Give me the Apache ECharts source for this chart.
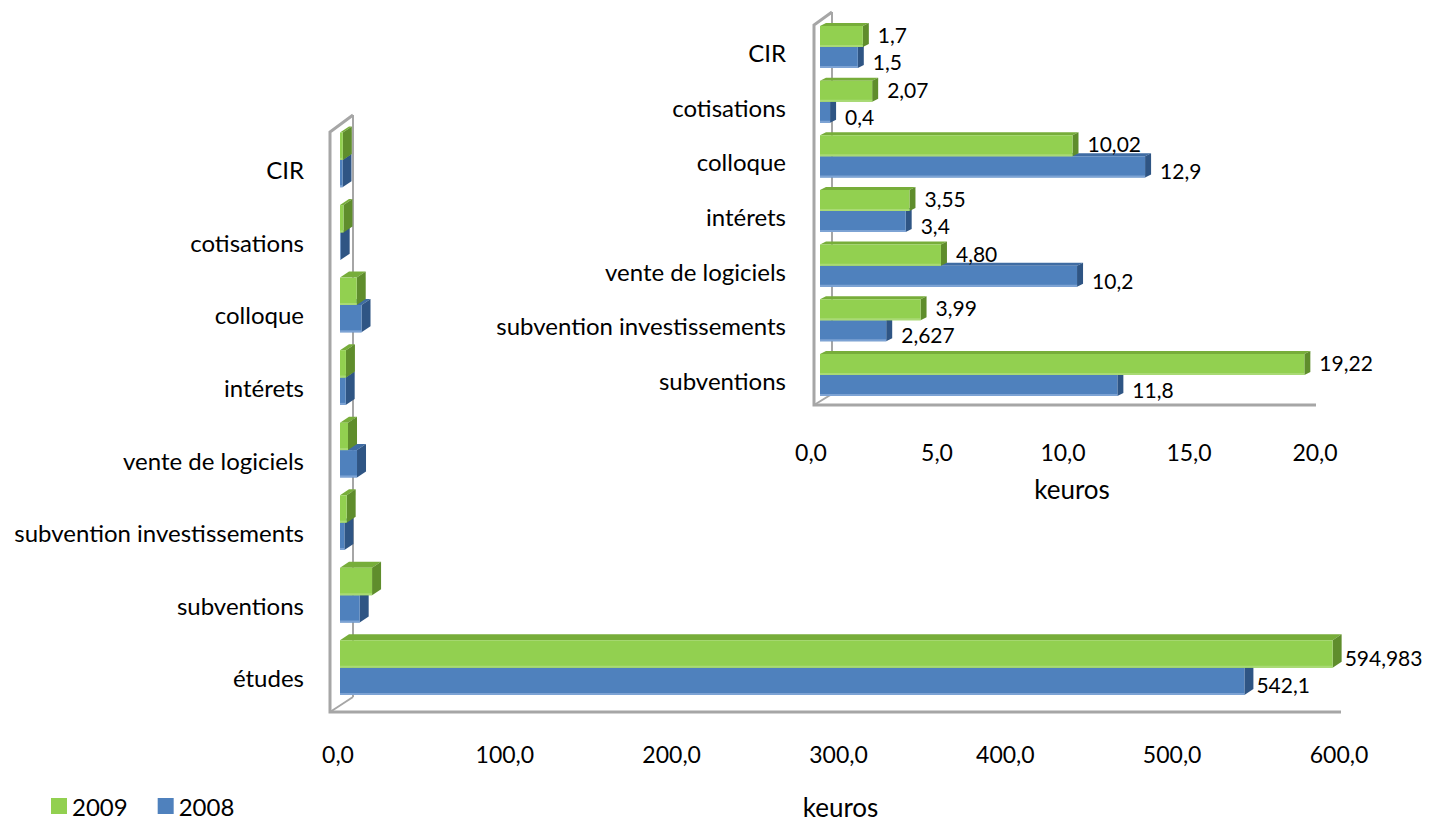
<!DOCTYPE html>
<html><head><meta charset="utf-8">
<script src="https://cdn.jsdelivr.net/npm/echarts@6/dist/echarts.min.js"></script>
<style>html,body{margin:0;padding:0;background:#fff}#c{width:1446px;height:825px}</style>
</head><body><div id="c"></div>
<script>
// ---- data (bottom to top, as drawn on the category axis) ----
const categories = ['études', 'subventions', 'subvention investissements', 'vente de logiciels', 'intérets', 'colloque', 'cotisations', 'CIR'];
const labels2009 = ['594,983', '19,22', '3,99', '4,80', '3,55', '10,02', '2,07', '1,7'];
const labels2008 = ['542,1', '11,8', '2,627', '10,2', '3,4', '12,9', '0,4', '1,5'];
const seriesNames = ['2009', '2008'];
const mainAxis = { min: 0, max: 600, interval: 100 };
const insetAxis = { min: 0, max: 20, interval: 5 };
const axisTitle = 'keuros';

const toNum = s => parseFloat(s.replace(',', '.'));
const values2009 = labels2009.map(toNum);
const values2008 = labels2008.map(toNum);
const insetCategories = categories.slice(1);

// ---- styling ----
const FONT = 'Lato';
const FS = 23;      // tick labels
const FS_CAT = 24;  // category labels
const FS_VAL = 21;  // value labels
const GREEN = { front: '#92D050', top: '#77AD3A', side: '#5F8D2C', edge: '#A9DA74' };
const BLUE = { front: '#4F81BD', top: '#3F6CA3', side: '#2F5584', edge: '#7DA3D4' };
const GRAY = '#A6A6A6';
const fmtTick = v => v.toFixed(1).replace('.', ',');

function bar3d(o) {
  return function (params, api) {
    const cat = api.value(1), val = api.value(0);
    const p0 = api.coord([0, cat]), p1 = api.coord([val, cat]);
    const band = api.size([0, 1])[1];
    const h = band * o.ratio;
    const top = o.slot === 0 ? p0[1] - h : p0[1];
    const x0 = p0[0], x1 = p1[0], dx = o.dx, dy = o.dy;
    const w = Math.max(x1 - x0, 0.5);
    const children = [
      { type: 'polygon', shape: { points: [[x0, top], [x0 + dx, top - dy], [x1 + dx, top - dy], [x1, top]] }, style: { fill: o.col.top } },
      { type: 'polygon', shape: { points: [[x1, top], [x1 + dx, top - dy], [x1 + dx, top + h - dy], [x1, top + h]] }, style: { fill: o.col.side } },
      { type: 'rect', shape: { x: x0, y: top, width: w, height: h }, style: { fill: o.col.front } },
      { type: 'rect', shape: { x: x0, y: top + h - 2, width: w, height: 2 }, style: { fill: o.col.edge } }
    ];
    if (o.showLabel(val)) {
      const ly = top + h / 2 + (o.slot === 0 ? o.lyTop : o.lyBot);
      children.push({ type: 'text', x: x1 + dx + o.gap, y: ly,
        style: { text: o.labels[params.dataIndex], fill: '#000', font: FS_VAL + 'px ' + FONT, verticalAlign: 'middle', align: 'left' } });
    }
    return { type: 'group', children };
  };
}

function makeSeries(name, values, labels, col, slot, gridIdx, cfg) {
  return {
    type: 'custom', name, xAxisIndex: gridIdx, yAxisIndex: gridIdx, clip: false,
    itemStyle: { color: col.front },
    encode: { x: 0, y: 1 },
    data: values.map((v, i) => [v, i]),
    renderItem: bar3d(Object.assign({ slot, col, labels }, cfg))
  };
}

const mainCfg = { ratio: 0.377, dx: 9, dy: 6, gap: 3, lyTop: 3, lyBot: 3, showLabel: v => v > 100 };
const insetCfg = { ratio: 0.385, dx: 6, dy: 3, gap: 9, lyTop: -2, lyBot: 4, showLabel: () => true };

// frame lines (3D walls)
function frame(fx, fyTop, fyBot, floorEnd, bx, byTop, byBot, w) {
  return [
    { type: 'line', shape: { x1: bx, y1: byTop, x2: bx, y2: byBot }, style: { stroke: GRAY, lineWidth: 2 }, z: -1 },
    { type: 'polyline', shape: { points: [[fx, fyBot], [bx, byBot]] }, style: { stroke: GRAY, lineWidth: 2 }, z: -1 },
    { type: 'polyline', shape: { points: [[bx, byTop], [fx, fyTop], [fx, fyBot], [floorEnd, fyBot]] }, style: { stroke: GRAY, lineWidth: w }, z: -1 }
  ];
}

const chart = echarts.init(document.getElementById('c'), null, { renderer: 'svg' });
chart.setOption({
  animation: false,
  textStyle: { fontFamily: FONT },
  grid: [
    { left: 340, right: 105, top: 123.6, bottom: 118.6 },
    { left: 820, right: 122, top: 19.7, bottom: 422.7 }
  ],
  legend: {
    data: seriesNames, left: 46, top: 789, itemWidth: 16, itemHeight: 16, itemGap: 30,
    icon: 'rect', textStyle: { fontSize: FS_CAT, fontFamily: FONT, color: '#000' }
  },
  xAxis: [
    { gridIndex: 0, type: 'value', min: mainAxis.min, max: mainAxis.max, interval: mainAxis.interval,
      axisLine: { show: false }, axisTick: { show: false }, splitLine: { show: false },
      axisLabel: { margin: 38, fontSize: FS, fontFamily: FONT, color: '#000', formatter: fmtTick, padding: [0, 4, 0, 0] },
      name: axisTitle, nameLocation: 'middle', nameGap: 90,
      nameTextStyle: { fontSize: 26, fontFamily: FONT, color: '#000' } },
    { gridIndex: 1, type: 'value', min: insetAxis.min, max: insetAxis.max, interval: insetAxis.interval,
      axisLine: { show: false }, axisTick: { show: false }, splitLine: { show: false },
      axisLabel: { margin: 38, fontSize: FS, fontFamily: FONT, color: '#000', formatter: fmtTick, padding: [0, 18, 0, 0] },
      name: axisTitle, nameLocation: 'middle', nameGap: 74,
      nameTextStyle: { fontSize: 26, fontFamily: FONT, color: '#000' } }
  ],
  yAxis: [
    { gridIndex: 0, type: 'category', data: categories,
      axisLine: { show: false }, axisTick: { show: false },
      axisLabel: { margin: 36, fontSize: FS_CAT, fontFamily: FONT, color: '#000', verticalAlign: 'top', lineHeight: 20 } },
    { gridIndex: 1, type: 'category', data: insetCategories,
      axisLine: { show: false }, axisTick: { show: false },
      axisLabel: { margin: 34, fontSize: FS_CAT, fontFamily: FONT, color: '#000', verticalAlign: 'top', lineHeight: 11 } }
  ],
  series: [
    makeSeries(seriesNames[1], values2008, labels2008, BLUE, 1, 0, mainCfg),
    makeSeries(seriesNames[0], values2009, labels2009, GREEN, 0, 0, mainCfg),
    makeSeries(seriesNames[1], values2008.slice(1), labels2008.slice(1), BLUE, 1, 1, insetCfg),
    makeSeries(seriesNames[0], values2009.slice(1), labels2009.slice(1), GREEN, 0, 1, insetCfg)
  ],
  graphic: [].concat(
    frame(330, 132, 712, 1341, 353, 115, 697, 3),
    frame(814, 25, 405, 1316, 832, 12, 394, 3)
  )
});
</script>
</body></html>
